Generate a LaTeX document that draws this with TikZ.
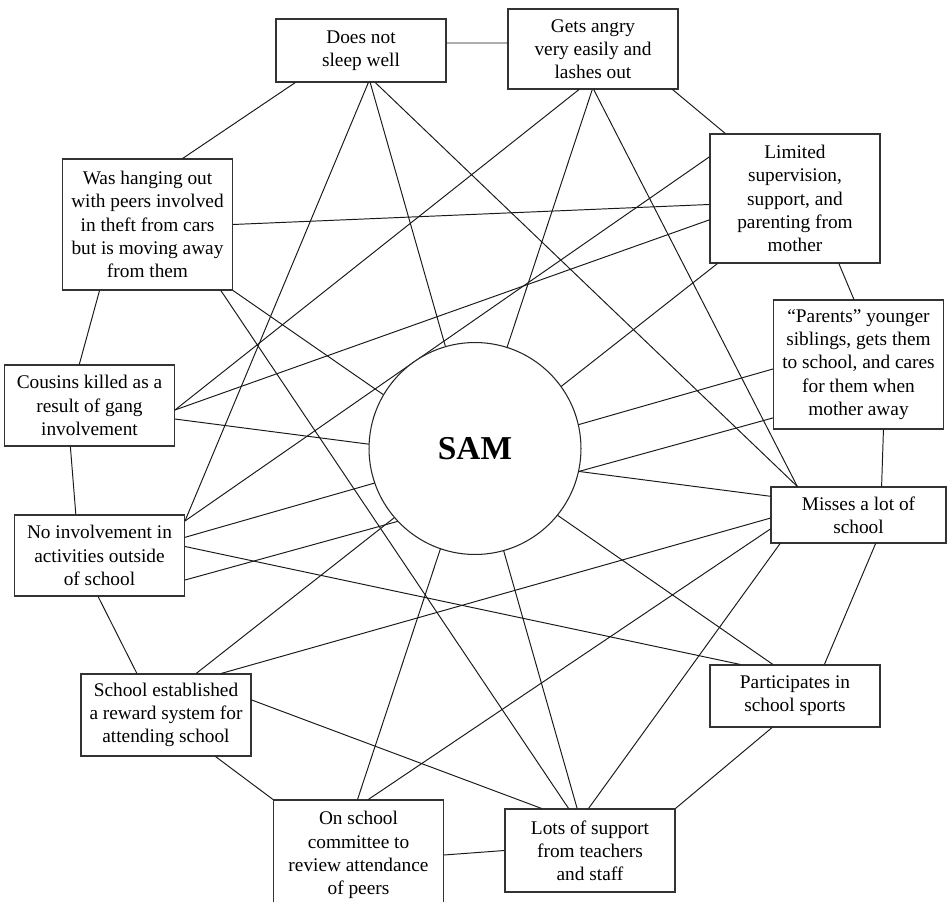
\documentclass[tikz,border=0pt]{standalone}
\usepackage{fontspec}
\setmainfont{Liberation Serif}

\begin{document}
\begin{tikzpicture}[
    x=0.02cm, y=-0.02cm,
    fac/.style={draw=black!80, line width=0.6pt, align=center, inner sep=2pt, minimum width=3.4cm, font=\fontsize{11}{13.2}\selectfont},
    link/.style={black!90, line width=0.55pt},
    core/.style={circle, draw=black!85, fill=white, line width=0.6pt, minimum size=4.24cm, font=\bfseries\fontsize{19}{22}\selectfont}
]
\clip (0,0) rectangle (948,902);
\node[fac, minimum height=1.26cm] (sleep) at (361,50.5) {Does not\\sleep well};
\node[fac, minimum height=1.6cm] (angry) at (593,49) {Gets angry\\very easily and\\lashes out};
\node[fac, minimum height=2.62cm] (peers) at (147.5,224.5) {Was hanging out\\with peers involved\\in theft from cars\\but is moving away\\from them};
\node[fac, minimum height=2.58cm] (mother) at (795,198.5) {Limited\\supervision,\\support, and\\parenting from\\mother};
\node[fac, minimum height=1.62cm] (cousins) at (89.5,405.5) {Cousins killed as a\\result of gang\\involvement};
\node[fac, minimum height=2.58cm] (parents) at (858.5,364.5) {“Parents” younger\\siblings, gets them\\to school, and cares\\for them when\\mother away};
\node[fac, minimum height=1.62cm] (noact) at (99.5,555.5) {No involvement in\\activities outside\\of school};
\node[fac, minimum height=1.12cm, minimum width=3.5cm] (misses) at (858.5,515) {Misses a lot of\\school};
\node[fac, minimum height=1.64cm] (reward) at (166,715) {School established\\a reward system for\\attending school};
\node[fac, minimum height=1.24cm] (sports) at (795,696) {Participates in\\school sports};
\node[fac, minimum height=2.2cm] (committee) at (358.5,855) {On school\\committee to\\review attendance\\of peers};
\node[fac, minimum height=1.66cm] (support) at (590,850.5) {Lots of support\\from teachers\\and staff};

\draw[link] (sleep.5) -- (angry.176);
\draw[link] (sleep.-154.5) -- (peers.62.2);
\draw[link] (sleep.-77.5) -- (noact.22.8);
\draw[link] (sleep.-74) -- (support.107.4);
\draw[link] (sleep.-66) -- (misses.155.2);
\draw[link] (angry.-109.3) -- (cousins.-3);
\draw[link] (angry.-91) -- (committee.91.6);
\draw[link] (angry.-89) -- (misses.155.2);
\draw[link] (angry.-27.5) -- (mother.137.3);
\draw[link] (peers.0) -- (mother.-176.3);
\draw[link] (peers.-126.5) -- (cousins.104.5);
\draw[link] (peers.-42.1) -- (support.117.9);
\draw[link] (peers.south east) -- (sports.125.4);
\draw[link] (mother.154) -- (noact.22.8);
\draw[link] (mother.-166.4) -- (cousins.-3);
\draw[link] (mother.-140.8) -- (reward.54.7);
\draw[link] (mother.-56.9) -- (parents.94.9);
\draw[link] (cousins.-9) -- (misses.168.4);
\draw[link] (cousins.-115.7) -- (noact.120.1);
\draw[link] (parents.-177) -- (noact.12.8);
\draw[link] (parents.-148) -- (noact.-16.6);
\draw[link] (parents.-69.2) -- (misses.51.2);
\draw[link] (noact.6.3) -- (sports.150.7);
\draw[link] (noact.-92.1) -- (reward.125.3);
\draw[link] (misses.-178) -- (reward.37.7);
\draw[link] (misses.-171.5) -- (committee.80.2);
\draw[link] (misses.-160.4) -- (support.92.8);
\draw[link] (misses.-59.5) -- (sports.47.9);
\draw[link] (reward.10.7) -- (support.139.2);
\draw[link] (reward.-40.5) -- (committee.north west);
\draw[link] (sports.-126.6) -- (support.north east);
\draw[link] (committee.east) -- (support.west);

\node[core] (sam) at (475,448.5) {SAM};
\end{tikzpicture}
\end{document}
